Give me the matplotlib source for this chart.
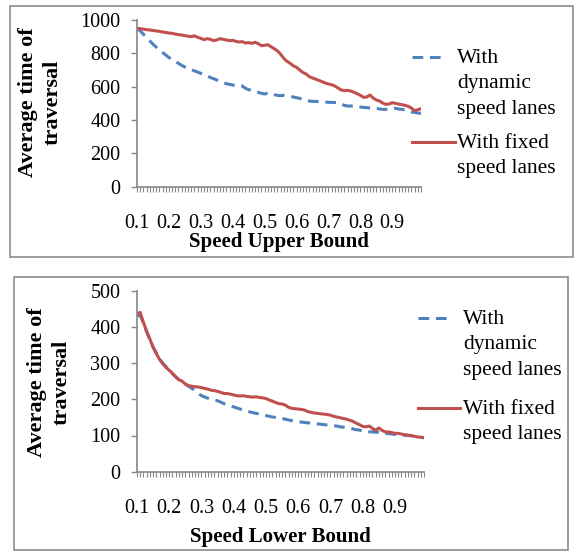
import matplotlib
matplotlib.use("Agg")
import matplotlib.pyplot as plt
from matplotlib.lines import Line2D
from matplotlib.patches import Rectangle

plt.rcParams['font.family'] = ['Liberation Serif', 'DejaVu Serif']

# ---------------- data ----------------
tick_labels = ["0.1", "0.2", "0.3", "0.4", "0.5", "0.6", "0.7", "0.8", "0.9"]
n_categories = 90  # 0.10 ... 0.99

upper_dynamic = [950, 935, 915, 895, 875, 855, 838, 820, 805, 790,
                 775, 762, 752, 740, 728, 718, 710, 702, 695, 688,
                 680, 672, 665, 655, 648, 640, 632, 625, 618, 614,
                 610, 606, 600, 604, 590, 582, 578, 572, 566, 560,
                 556, 562, 560, 552, 548, 546, 548, 546, 542, 538,
                 534, 530, 522, 516, 514, 512, 512, 510, 510, 508,
                 506, 506, 505, 504, 496, 488, 484, 484, 484, 482,
                 478, 476, 474, 472, 470, 470, 466, 464, 464, 466,
                 470, 470, 466, 464, 460, 454, 448, 446, 442, 440]
upper_fixed = [950, 948, 945, 942, 940, 937, 935, 932, 928, 925,
               922, 920, 916, 912, 910, 906, 903, 900, 905, 896,
               890, 882, 888, 884, 876, 880, 888, 884, 880, 876,
               878, 872, 868, 870, 862, 864, 860, 866, 858, 846,
               848, 852, 840, 828, 815, 795, 770, 752, 740, 725,
               716, 700, 685, 676, 660, 652, 645, 638, 630, 622,
               616, 612, 604, 592, 580, 576, 578, 574, 566, 558,
               548, 536, 538, 550, 532, 520, 514, 502, 494, 496,
               504, 500, 496, 492, 488, 482, 472, 456, 462, 468]

lower_dynamic = [430, 432, 410, 386, 364, 344, 328, 312, 300, 290,
                 280, 270, 262, 254, 248, 242, 236, 230, 224, 216,
                 210, 206, 203, 200, 198, 196, 192, 188, 185, 182,
                 179, 176, 173, 170, 168, 165, 163, 161, 159, 157,
                 155, 153, 151, 150, 149, 147, 145, 143, 141, 139,
                 138, 137, 136, 135, 134, 133, 132, 131, 130, 129,
                 128, 127, 126, 124, 123, 122, 120, 118, 116, 115,
                 112, 110, 110, 110, 109, 109, 106, 106, 105, 104,
                 103, 102, 101, 101, 100, 99, 97, 96, 95, 94]
lower_fixed = [436, 440, 412, 388, 366, 344, 326, 310, 298, 288,
               280, 272, 262, 254, 250, 242, 238, 236, 235, 234,
               232, 230, 228, 225, 224, 222, 219, 216, 216, 214,
               212, 210, 209, 210, 208, 207, 206, 207, 205, 204,
               202, 198, 195, 191, 188, 187, 184, 178, 175, 174,
               173, 172, 170, 166, 164, 162, 161, 160, 159, 158,
               156, 153, 151, 149, 147, 145, 142, 139, 134, 130,
               125, 124, 126, 120, 114, 121, 114, 110, 110, 108,
               106, 106, 104, 102, 101, 100, 98, 96, 95, 94]

legend_dynamic = "With\ndynamic\nspeed lanes"
legend_fixed = "With fixed\nspeed lanes"
ylabel_text = "Average time of\ntraversal"

# ---------------- styling ----------------
W, H = 575, 552
DPI = 100
RED = "#C0504D"
BLUE = "#4F81BD"
GRAY = "#868686"
TICK_FS = 14.5
XLABEL_FS = 15
YLABEL_FS = 16
LEG_FS = 15.5

fig = plt.figure(figsize=(W / DPI, H / DPI), dpi=DPI)


def fx(px):
    return px / W


def fy(py):
    return 1 - py / H


def make_axes(left, right, top, bottom):
    return fig.add_axes([fx(left), fy(bottom), fx(right) - fx(left), fy(top) - fy(bottom)])


def frame(x0, y0, x1, y1):
    fig.patches.append(Rectangle((fx(x0), fy(y1)), fx(x1) - fx(x0), fy(y0) - fy(y1),
                                 transform=fig.transFigure, fill=False,
                                 edgecolor="#8c8c8c", linewidth=1.2))


def style_axes(ax, ymax, ystep, xlabel):
    x = list(range(n_categories))
    ax.set_xlim(0, n_categories - 1)
    ax.set_ylim(0, ymax)
    ax.set_yticks(range(0, ymax + 1, ystep))
    ax.set_xticks(range(0, n_categories, 10))
    ax.set_xticklabels(tick_labels)
    ax.set_xticks(x, minor=True)
    for s in ("top", "right"):
        ax.spines[s].set_visible(False)
    for s in ("left", "bottom"):
        ax.spines[s].set_color(GRAY)
        ax.spines[s].set_linewidth(1.2)
    ax.tick_params(axis="y", which="major", direction="out", length=4, width=1,
                   color=GRAY, labelsize=TICK_FS, pad=8)
    ax.tick_params(axis="x", which="both", direction="out", length=3.5, width=0.8,
                   color=GRAY, labelsize=TICK_FS, pad=16)
    ax.set_xlabel(xlabel, fontsize=XLABEL_FS, fontweight="bold", va="center")
    ax.set_ylabel(ylabel_text, fontsize=YLABEL_FS, fontweight="bold",
                  va="center", ha="center", multialignment="center", linespacing=1.3)
    ax.patch.set_alpha(0)


def legend(y_dyn, y_fix, hx0, hx1_dyn, hx1_fix, tx):
    fig.add_artist(Line2D([fx(hx0), fx(hx1_dyn)], [fy(y_dyn), fy(y_dyn)],
                          transform=fig.transFigure, color=BLUE, lw=2.2,
                          linestyle=(0, (3.5, 2.2))))
    fig.add_artist(Line2D([fx(hx0), fx(hx1_fix)], [fy(y_fix), fy(y_fix)],
                          transform=fig.transFigure, color=RED, lw=2.2))
    fig.text(fx(tx), fy(y_dyn - 8), legend_dynamic, fontsize=LEG_FS, va="top",
             ha="left", linespacing=1.45)
    fig.text(fx(tx), fy(y_fix - 8), legend_fixed, fontsize=LEG_FS, va="top",
             ha="left", linespacing=1.45)


# ---------------- top panel ----------------
frame(10, 6, 573, 257)
ax1 = make_axes(137, 421, 20, 186.7)
xs = list(range(n_categories))
ax1.plot(xs, upper_dynamic, color=BLUE, lw=2.2, linestyle=(0, (3.5, 2.2)))
ax1.plot(xs, upper_fixed, color=RED, lw=2.2)
style_axes(ax1, 1000, 200, "Speed Upper Bound")
ax1.xaxis.set_label_coords(0.5, (186.7 - 242) / 166.7)
ax1.yaxis.set_label_coords((40.5 - 137) / 284, (186.7 - 102) / 166.7)
legend(57, 142, 412, 443, 455, 457)

# ---------------- bottom panel ----------------
frame(14, 277, 568, 550)
ax2 = make_axes(137, 424, 290.7, 471.7)
ax2.plot(xs, lower_dynamic, color=BLUE, lw=2.2, linestyle=(0, (3.5, 2.2)))
ax2.plot(xs, lower_fixed, color=RED, lw=2.2)
style_axes(ax2, 500, 100, "Speed Lower Bound")
ax2.xaxis.set_label_coords(0.5, (471.7 - 537) / 181)
ax2.yaxis.set_label_coords((49.5 - 137) / 287, (471.7 - 382) / 181)
legend(318, 408, 418, 452, 460, 463)

fig.savefig("out.png", dpi=DPI)
